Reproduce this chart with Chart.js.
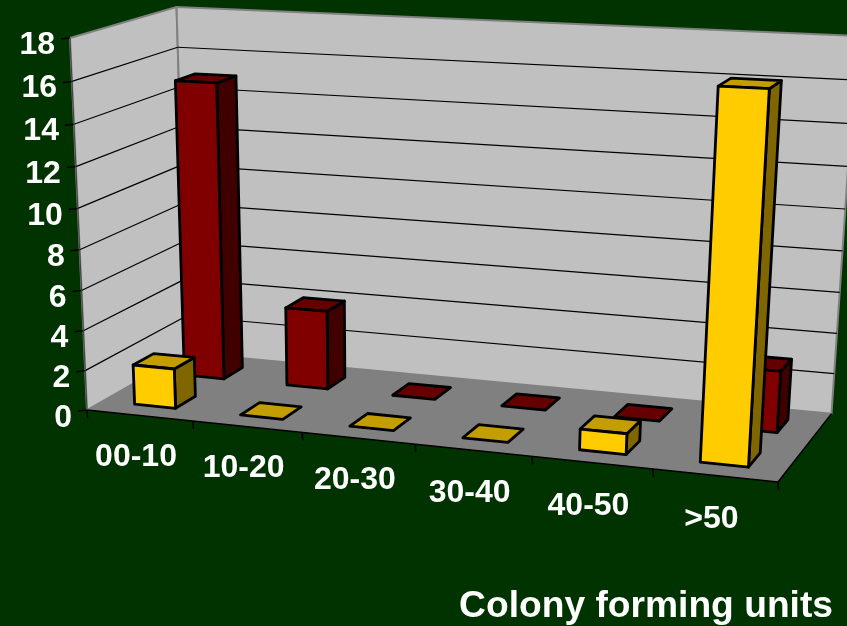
<!DOCTYPE html>
<html>
<head>
<meta charset="utf-8">
<title>Colony forming units</title>
<script src="https://cdn.jsdelivr.net/npm/chart.js@4/dist/chart.umd.min.js"></script>
<style>
  html, body { margin: 0; padding: 0; background: #003300; overflow: hidden; }
  canvas { display: block; }
</style>
</head>
<body>
<canvas id="chart" width="847" height="626"></canvas>
<script>
const categories = ["00-10", "10-20", "20-30", "30-40", "40-50", ">50"];
const frontValues = [2, 0, 0, 0, 1, 17];
const backValues = [15, 4, 0, 0, 0, 3];

// screen frame of the 3d box, O = front left floor corner
const O = [87, 410], X = [778, 482], Y = [70, 38], Z = [187, 353];
const pa = -0.095, pb = -0.0534, pc = 0.08;

function project(u, v, w) {
    const d = 1 + pa * u + pb * v + pc * w;
    const p = i => (O[i] + u * (X[i] * (1 + pa) - O[i]) + v * (Y[i] * (1 + pb) - O[i]) + w * (Z[i] * (1 + pc) - O[i])) / d;
    return [p(0), p(1)];
}

function poly(ctx, pts, fill, stroke, lw) {
    ctx.beginPath();
    pts.forEach((p, i) => i ? ctx.lineTo(p[0], p[1]) : ctx.moveTo(p[0], p[1]));
    ctx.closePath();
    if (fill) { ctx.fillStyle = fill; ctx.fill(); }
    if (stroke) { ctx.strokeStyle = stroke; ctx.lineWidth = lw; ctx.stroke(); }
}

function line(ctx, a, b, color, lw) {
    ctx.beginPath();
    ctx.moveTo(a[0], a[1]);
    ctx.lineTo(b[0], b[1]);
    ctx.strokeStyle = color;
    ctx.lineWidth = lw;
    ctx.stroke();
}

const frame3d = {
    id: "frame3d",
    beforeDatasetsDraw(chart) {
        const ctx = chart.ctx, ys = chart.scales.y, xs = chart.scales.x;
        const area = chart.chartArea;
        const vOf = t => (area.bottom - ys.getPixelForValue(t)) / area.height;
        ctx.save();
        ctx.lineJoin = "round";
        // walls and floor
        poly(ctx, [project(0, 0, 0), project(0, 1, 0), project(0, 1, 1), project(0, 0, 1)], "#c0c0c0", "#808080", 2);
        poly(ctx, [project(0, 0, 1), project(0, 1, 1), project(1, 1, 1), project(1, 0, 1)], "#c0c0c0", "#808080", 2);
        poly(ctx, [project(0, 0, 0), project(1, 0, 0), project(1, 0, 1), project(0, 0, 1)], "#808080");
        // grid lines and value labels
        ctx.fillStyle = "#ffffff";
        ctx.font = "bold 32px 'Liberation Sans', Arial, sans-serif";
        ys.ticks.forEach(t => {
            const v = vOf(t.value);
            const a = project(0, v, 0);
            if (t.value > 0 && t.value < ys.max) {
                line(ctx, a, project(0, v, 1), "#000000", 1.2);
                line(ctx, project(0, v, 1), project(1, v, 1), "#000000", 1.2);
            }
            line(ctx, [a[0] - 9, a[1] + 1], a, "#000000", 1.5);
            ctx.fillStyle = "#ffffff";
            ctx.textAlign = "right";
            ctx.textBaseline = "middle";
            ctx.fillText(t.label, a[0] - 15, a[1] + 8 - v * 1);
        });
        // front edges and category ticks
        line(ctx, project(0, 0, 0), project(1, 0, 0), "#000000", 1.5);
        line(ctx, project(1, 0, 0), project(1, 0, 1), "#000000", 1.5);
        line(ctx, project(0, 0, 0), project(0, 1, 0), "#404040", 1);
        for (let i = 0; i <= categories.length; i++) {
            const u = i / categories.length;
            const a = project(u, 0, 0);
            line(ctx, a, [a[0] + 0.5, a[1] + 8], "#000000", 1.5);
        }
        categories.forEach((c, i) => {
            const u = (xs.getPixelForValue(i) - area.left) / area.width;
            const a = project(u, 0, 0);
            ctx.fillStyle = "#ffffff";
            ctx.textAlign = "center";
            ctx.textBaseline = "middle";
            ctx.fillText(c, a[0] - 3.5, a[1] + 41 + 3 * u);
        });
        ctx.font = "bold 37.2px 'Liberation Sans', Arial, sans-serif";
        ctx.textAlign = "right";
        ctx.textBaseline = "alphabetic";
        ctx.fillText("Colony forming units", 833, 617);
        ctx.restore();
    },
    afterDatasetsDraw(chart) {
        const ctx = chart.ctx, area = chart.chartArea;
        ctx.save();
        ctx.lineJoin = "round";
        // back row first so the front row overlaps it
        [1, 0].forEach(ds => {
            const dataset = chart.data.datasets[ds];
            chart.getDatasetMeta(ds).data.forEach(bar => {
                const u0 = (bar.x - bar.width / 2 - area.left) / area.width;
                const u1 = (bar.x + bar.width / 2 - area.left) / area.width;
                const v0 = (area.bottom - bar.base) / area.height;
                const v1 = (area.bottom - bar.y) / area.height;
                const w0 = dataset.depth - 0.1, w1 = dataset.depth + 0.1;
                const lw = 2.8;
                if (v1 > v0) {
                    poly(ctx, [project(u1, v0, w0), project(u1, v1, w0), project(u1, v1, w1), project(u1, v0, w1)], dataset.sideColor, "#000000", lw);
                }
                poly(ctx, [project(u0, v1, w0), project(u1, v1, w0), project(u1, v1, w1), project(u0, v1, w1)], dataset.topColor, "#000000", lw);
                if (v1 > v0) {
                    poly(ctx, [project(u0, v0, w0), project(u1, v0, w0), project(u1, v1, w0), project(u0, v1, w0)], dataset.faceColor, "#000000", lw);
                }
            });
        });
        ctx.restore();
    }
};

new Chart(document.getElementById("chart"), {
    type: "bar",
    data: {
        labels: categories,
        datasets: [
            { data: frontValues, depth: 0.25, faceColor: "#ffcc00", topColor: "#c49d00", sideColor: "#806600", backgroundColor: "transparent" },
            { data: backValues, depth: 0.75, faceColor: "#800000", topColor: "#660000", sideColor: "#400000", backgroundColor: "transparent" }
        ]
    },
    options: {
        responsive: false,
        animation: false,
        layout: { padding: 0 },
        plugins: { legend: { display: false }, tooltip: { enabled: false } },
        datasets: { bar: { grouped: false, barPercentage: 0.39, categoryPercentage: 1 } },
        scales: {
            x: { display: false },
            y: { display: false, min: 0, max: 18, ticks: { stepSize: 2 } }
        }
    },
    plugins: [frame3d]
});
</script>
</body>
</html>
